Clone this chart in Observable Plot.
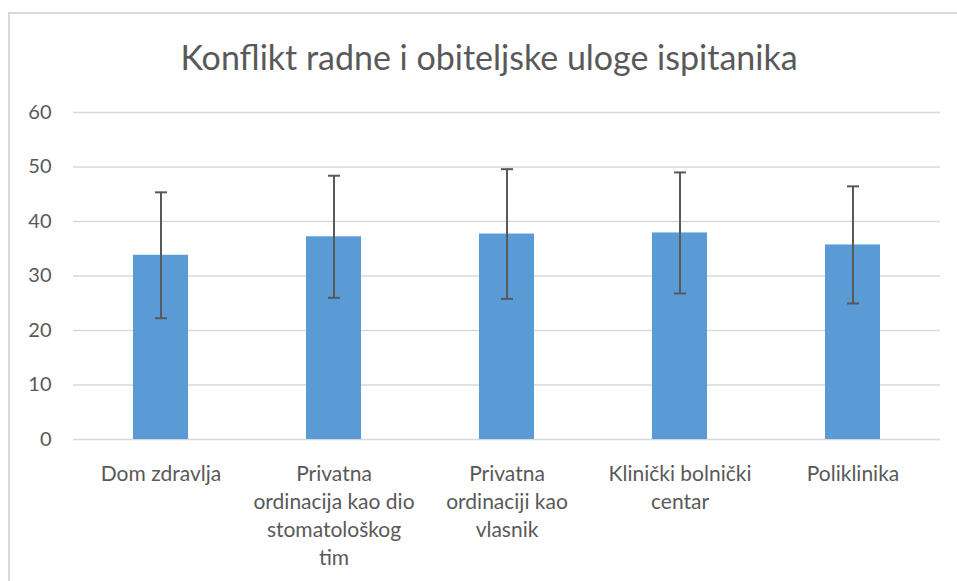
<!DOCTYPE html>
<html>
<head>
<meta charset="utf-8">
<script src="https://cdn.jsdelivr.net/npm/d3@7"></script>
<script src="https://cdn.jsdelivr.net/npm/@observablehq/plot@0.6"></script>
<style>
  html, body { margin: 0; padding: 0; background: #fff; overflow: hidden; }
  #frame {
    position: absolute; left: 8px; top: 12px; width: 960px; height: 580px;
    border-left: 2px solid #d9d9d9; border-top: 2px solid #d9d9d9; background: #fff;
  }
  #title {
    height: 86px; line-height: 86px; text-align: center;
    font-family: Lato, "Open Sans", sans-serif; font-size: 34px; color: #595959;
    width: 960px; margin-left: -1px;
  }
</style>
</head>
<body>
<div id="frame">
  <div id="title">Konflikt radne i obiteljske uloge ispitanika</div>
  <div id="chart"></div>
</div>
<script>
const categories = [
  "Dom zdravlja",
  "Privatna ordinacija kao dio stomatološkog tim",
  "Privatna ordinaciji kao vlasnik",
  "Klinički bolnički centar",
  "Poliklinika"
];
const tickLabels = [
  "Dom zdravlja",
  "Privatna\nordinacija kao dio\nstomatološkog\ntim",
  "Privatna\nordinaciji kao\nvlasnik",
  "Klinički bolnički\ncentar",
  "Poliklinika"
];
const means = [33.8, 37.2, 37.7, 37.9, 35.7];
const sds = [11.55, 11.2, 11.9, 11.1, 10.75];
const yTicks = [0, 10, 20, 30, 40, 50, 60];

const data = categories.map((c, i) => ({
  cat: c, mean: means[i], lo: means[i] - sds[i], hi: means[i] + sds[i]
}));
const labelOf = new Map(categories.map((c, i) => [c, tickLabels[i]]));

const capSymbol = {
  draw(ctx, size) {
    const r = Math.sqrt(size / Math.PI);
    ctx.moveTo(-r, 0);
    ctx.lineTo(r, 0);
  }
};

const chart = Plot.plot({
  width: 947,
  height: 481,
  marginTop: 12,
  marginBottom: 142,
  marginLeft: 63,
  marginRight: 17,
  style: { fontFamily: "Lato, 'Open Sans', sans-serif", color: "#595959", background: "#fff" },
  x: { domain: categories, paddingInner: 0.68, paddingOuter: 0.34, label: null },
  y: { domain: [0, 60], ticks: yTicks, label: null },
  marks: [
    Plot.gridY(yTicks, { stroke: "#d9d9d9", strokeOpacity: 1, strokeWidth: 1.5 }),
    Plot.axisY(yTicks, { tickSize: 0, tickPadding: 22, fontSize: 20, fill: "#595959", label: null }),
    Plot.axisX({ tickSize: 0, tickPadding: 22, fontSize: 21, fill: "#595959", lineHeight: 1.33, tickFormat: d => labelOf.get(d), label: null }),
    Plot.barY(data, { x: "cat", y: "mean", fill: "#5b9bd5" }),
    Plot.ruleX(data, { x: "cat", y1: "lo", y2: "hi", stroke: "#595959", strokeWidth: 2 }),
    Plot.dot(data, { x: "cat", y: "lo", symbol: capSymbol, r: 6, stroke: "#595959", strokeWidth: 2 }),
    Plot.dot(data, { x: "cat", y: "hi", symbol: capSymbol, r: 6, stroke: "#595959", strokeWidth: 2 })
  ]
});
document.getElementById("chart").appendChild(chart);
</script>
</body>
</html>
